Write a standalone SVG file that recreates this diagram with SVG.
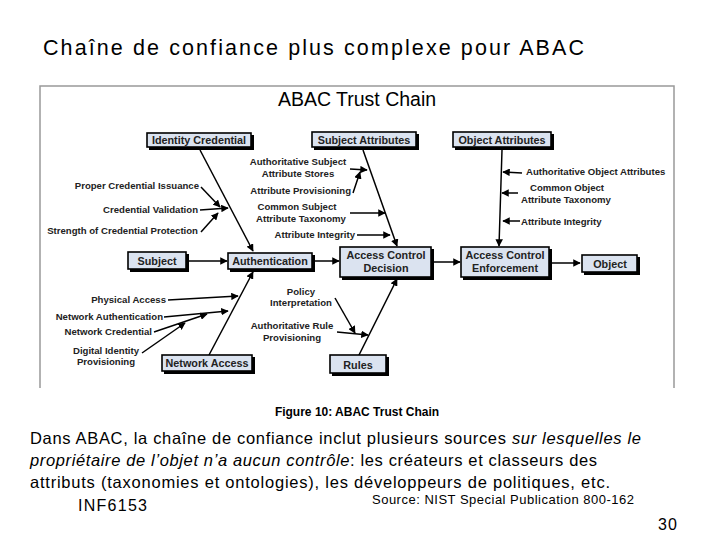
<svg xmlns="http://www.w3.org/2000/svg" width="720" height="540" viewBox="0 0 720 540">
<style>
text{font-family:"Liberation Sans",Arial,sans-serif;fill:#000}
.l{font-size:9.6px;font-weight:bold;fill:#222}
.e{text-anchor:end}.m{text-anchor:middle}
.bx{fill:#dbe3f0;stroke:#000;stroke-width:1.6}
.sh{fill:#000}
.bt{font-size:10.8px;font-weight:bold;text-anchor:middle;fill:#222}
#connectors line{stroke:#000;stroke-width:1.5;marker-end:url(#ah)}
.body{font-size:16.5px}
</style>
<defs>
<marker id="ah" viewBox="0 0 10 10" refX="9" refY="5" markerWidth="5" markerHeight="5" orient="auto"><path d="M0,0L10,5L0,10z" fill="#000"/></marker>
</defs>
<rect width="720" height="540" fill="#fff"/>
<text x="43" y="55" font-size="21.5" textLength="541" lengthAdjust="spacing">Chaîne de confiance plus complexe pour ABAC</text>
<path d="M40,388V86H674V388" fill="none" stroke="#999" stroke-width="1.5"/>
<text x="357" y="106" font-size="19.5" class="m" fill="#222">ABAC Trust Chain</text>
<text x="357" y="416" font-size="12" font-weight="bold" class="m">Figure 10: ABAC Trust Chain</text>

<g id="connectors">
<line x1="200" y1="150" x2="253" y2="251"/>
<line x1="201" y1="187" x2="220" y2="207"/>
<line x1="200" y1="210" x2="228" y2="208"/>
<line x1="201" y1="232" x2="218" y2="213"/>
<line x1="187" y1="261" x2="227" y2="261"/>
<line x1="313" y1="261" x2="339" y2="261"/>
<line x1="209" y1="355" x2="253" y2="272"/>
<line x1="168" y1="300" x2="238" y2="296"/>
<line x1="164" y1="317" x2="228" y2="311"/>
<line x1="154" y1="332" x2="207" y2="314"/>
<line x1="142" y1="353" x2="185" y2="323"/>
<line x1="363" y1="150" x2="397" y2="246"/>
<line x1="350" y1="169" x2="367" y2="170"/>
<line x1="353" y1="193" x2="360" y2="172"/>
<line x1="350" y1="213" x2="385" y2="213"/>
<line x1="357" y1="235" x2="390" y2="235"/>
<line x1="358" y1="357" x2="397" y2="279"/>
<line x1="335" y1="298" x2="355" y2="333"/>
<line x1="337" y1="332" x2="368" y2="335"/>
<line x1="502" y1="150" x2="499" y2="246"/>
<line x1="522" y1="173" x2="503" y2="172"/>
<line x1="518" y1="193" x2="502" y2="193"/>
<line x1="520" y1="221" x2="503" y2="221"/>
<line x1="432" y1="262" x2="460" y2="262"/>
<line x1="497" y1="263" x2="580" y2="263"/>
</g>

<g id="identity-credential"><rect class="sh" x="149" y="135" width="105" height="15"/><rect class="bx" x="147" y="133" width="104" height="14"/><text class="bt" x="199" y="144">Identity Credential</text></g>
<g id="subject-attributes"><rect class="sh" x="314" y="134" width="105" height="16"/><rect class="bx" x="312" y="132" width="104" height="15"/><text class="bt" x="364" y="144">Subject Attributes</text></g>
<g id="object-attributes"><rect class="sh" x="455" y="134" width="99" height="16"/><rect class="bx" x="453" y="132" width="98" height="15"/><text class="bt" x="502" y="144">Object Attributes</text></g>
<g id="subject"><rect class="sh" x="130" y="254" width="59" height="18"/><rect class="bx" x="128" y="252" width="58" height="17"/><text class="bt" x="157" y="265">Subject</text></g>
<g id="authentication"><rect class="sh" x="230" y="255" width="85" height="17"/><rect class="bx" x="228" y="253" width="84" height="16"/><text class="bt" x="270" y="265">Authentication</text></g>
<g id="access-control-decision"><rect class="sh" x="342" y="249" width="92" height="31"/><rect class="bx" x="340" y="247" width="91" height="30"/><text class="bt" x="386" y="259">Access Control</text><text class="bt" x="386" y="272">Decision</text></g>
<g id="access-control-enforcement"><rect class="sh" x="463" y="249" width="89" height="31"/><rect class="bx" x="461" y="247" width="88" height="30"/><text class="bt" x="505" y="259">Access Control</text><text class="bt" x="505" y="272">Enforcement</text></g>
<g id="object"><rect class="sh" x="584" y="257" width="56" height="18"/><rect class="bx" x="582" y="255" width="55" height="17"/><text class="bt" x="610" y="268">Object</text></g>
<g id="network-access"><rect class="sh" x="164" y="357" width="91" height="17"/><rect class="bx" x="162" y="355" width="90" height="16"/><text class="bt" x="207" y="367">Network Access</text></g>
<g id="rules"><rect class="sh" x="332" y="357" width="57" height="19"/><rect class="bx" x="330" y="355" width="56" height="18"/><text class="bt" x="358" y="368.5">Rules</text></g>

<g id="labels">
<text class="l e" x="199" y="189">Proper Credential Issuance</text>
<text class="l e" x="198" y="213">Credential Validation</text>
<text class="l e" x="198" y="234">Strength of Credential Protection</text>
<text class="l m" x="298" y="165">Authoritative Subject</text>
<text class="l m" x="298" y="177">Attribute Stores</text>
<text class="l e" x="351" y="194">Attribute Provisioning</text>
<text class="l m" x="297" y="210">Common Subject</text>
<text class="l m" x="301" y="222">Attribute Taxonomy</text>
<text class="l e" x="355" y="238">Attribute Integrity</text>
<text class="l e" x="166" y="303">Physical Access</text>
<text class="l e" x="163" y="320">Network Authentication</text>
<text class="l e" x="152" y="335">Network Credential</text>
<text class="l m" x="106" y="354">Digital Identity</text>
<text class="l m" x="106" y="365">Provisioning</text>
<text class="l m" x="301" y="295">Policy</text>
<text class="l m" x="301" y="306">Interpretation</text>
<text class="l m" x="292" y="329">Authoritative Rule</text>
<text class="l m" x="292" y="341">Provisioning</text>
<text class="l" x="526" y="175">Authoritative Object Attributes</text>
<text class="l m" x="567" y="191">Common Object</text>
<text class="l" x="521" y="203">Attribute Taxonomy</text>
<text class="l" x="521" y="225">Attribute Integrity</text>
</g>

<text class="body" x="30" y="444" textLength="611" lengthAdjust="spacing">Dans ABAC, la chaîne de confiance inclut plusieurs sources <tspan font-style="italic">sur lesquelles le</tspan></text>
<text class="body" x="30" y="466" textLength="567" lengthAdjust="spacing"><tspan font-style="italic">propriétaire de l’objet n’a aucun contrôle</tspan>: les créateurs et classeurs des</text>
<text class="body" x="30" y="488" textLength="580" lengthAdjust="spacing">attributs (taxonomies et ontologies), les développeurs de politiques, etc.</text>
<text x="372" y="504" font-size="13" textLength="262" lengthAdjust="spacing">Source: NIST Special Publication 800-162</text>
<text x="78" y="511" font-size="16" textLength="69" lengthAdjust="spacing">INF6153</text>
<text x="658" y="530" font-size="16" textLength="19" lengthAdjust="spacing">30</text>
</svg>
